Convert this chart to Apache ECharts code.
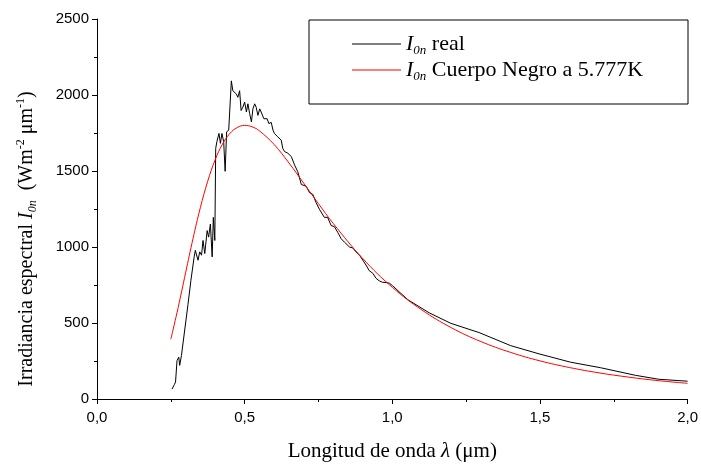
<!DOCTYPE html>
<html>
<head>
<meta charset="utf-8">
<script src="https://cdn.jsdelivr.net/npm/echarts@6/dist/echarts.min.js"></script>
<style>
  html, body { margin: 0; padding: 0; background: #fff; }
  #main { width: 701px; height: 467px; }
</style>
</head>
<body>
<div id="main"></div>
<script>
// measured spectrum (black)
var realX = [0.254, 0.262, 0.266, 0.271, 0.277, 0.280, 0.286, 0.308, 0.318, 0.329, 0.333, 0.342, 0.348, 0.354,
  0.359, 0.365, 0.373, 0.378, 0.384, 0.390, 0.394, 0.399, 0.402, 0.406, 0.413, 0.418, 0.423, 0.429,
  0.434, 0.439, 0.446, 0.455, 0.460, 0.466, 0.472, 0.477, 0.483, 0.488, 0.494, 0.500, 0.506, 0.511,
  0.517, 0.523, 0.528, 0.534, 0.539, 0.545, 0.551, 0.556, 0.565, 0.571, 0.576, 0.582, 0.590, 0.596,
  0.601, 0.607, 0.612, 0.618, 0.624, 0.629, 0.635, 0.646, 0.658, 0.669, 0.680, 0.692, 0.697, 0.708,
  0.720, 0.731, 0.742, 0.753, 0.770, 0.781, 0.793, 0.804, 0.815, 0.827, 0.838, 0.855, 0.866, 0.877,
  0.889, 0.900, 0.911, 0.922, 0.934, 0.945, 0.956, 0.967, 0.979, 0.990, 1.001, 1.052, 1.125, 1.198,
  1.294, 1.401, 1.497, 1.604, 1.705, 1.823, 1.902, 2.000];
var realY = [65, 95, 112, 253, 275, 221, 286, 620, 780, 935, 978, 913, 968, 946,
  1043, 957, 1108, 1065, 1151, 935, 1195, 1043, 1649, 1693, 1747, 1682, 1747, 1693,
  1498, 1758, 1768, 2093, 2028, 2039, 2006, 1985, 2028, 1898, 1920, 1953, 1888, 1942,
  1877, 1823, 1909, 1942, 1920, 1866, 1909, 1888, 1844, 1834, 1844, 1812, 1820, 1769,
  1747, 1760, 1725, 1715, 1703, 1649, 1628, 1617, 1595, 1540, 1495, 1411, 1422, 1400,
  1357, 1346, 1292, 1249, 1195, 1195, 1141, 1134, 1097, 1054, 1032, 1000, 994, 968,
  946, 914, 881, 844, 827, 794, 777, 768, 766, 762, 745, 654, 567, 498,
  437, 351, 297, 242, 206, 156, 130, 117];

// black body 5777 K (red)
var bbX = [0.25, 0.275, 0.30, 0.325, 0.35, 0.375, 0.40, 0.425, 0.45, 0.475, 0.50, 0.525, 0.55, 0.60, 0.65,
  0.70, 0.75, 0.80, 0.90, 1.0, 1.1, 1.2, 1.3, 1.4, 1.5, 1.6, 1.7, 1.8, 1.9, 2.0];
var bbY = [393, 603, 830, 1054, 1259, 1433, 1573, 1677, 1747, 1786, 1800, 1791, 1764, 1674, 1553,
  1420, 1285, 1155, 924, 735, 586, 469, 378, 307, 251, 207, 172, 144, 121, 103];

var xTicks = [0, 0.5, 1.0, 1.5, 2.0];
var yTicks = [0, 500, 1000, 1500, 2000, 2500];

var serif = '"Liberation Serif", "Times New Roman", serif';
var sans = '"Liberation Sans", Arial, sans-serif';

function pairs(xs, ys) {
  return xs.map(function (x, i) { return [x, ys[i]]; });
}

function makeRich(size) {
  var small = Math.round(size * 0.6);
  return {
    n: { fontFamily: serif, fontSize: size, lineHeight: size + 4, color: '#000' },
    i: { fontFamily: serif, fontSize: size, lineHeight: size + 4, fontStyle: 'italic', color: '#000' },
    sub: { fontFamily: serif, fontSize: small, lineHeight: small - 2, fontStyle: 'italic', verticalAlign: 'bottom', color: '#000' },
    sup: { fontFamily: serif, fontSize: small, lineHeight: small, verticalAlign: 'top', color: '#000' }
  };
}

var chart = echarts.init(document.getElementById('main'));

var option = {
  animation: false,
  backgroundColor: '#fff',
  grid: { left: 97, right: 11, top: 19, bottom: 63 },
  graphic: [
    {
      type: 'rect',
      shape: { x: 309, y: 20, width: 379, height: 84 },
      style: { fill: '#fff', stroke: '#000', lineWidth: 1 },
      z: 10
    }
  ],
  legend: {
    orient: 'vertical',
    left: 352,
    top: 33,
    icon: 'rect',
    itemWidth: 49,
    itemHeight: 1,
    itemGap: 2,
    padding: 0,
    z: 20,
    data: ['real', 'bb'],
    formatter: function (name) {
      if (name === 'real') return '{i|I}{sub|0n}{n| real}';
      return '{i|I}{sub|0n}{n| Cuerpo Negro a 5.777K}';
    },
    textStyle: { fontFamily: serif, fontSize: 22, color: '#000', rich: makeRich(22) }
  },
  xAxis: {
    type: 'value',
    min: 0,
    max: 2,
    interval: 0.5,
    name: '{n|Longitud de onda }{i|λ}{n| (μm)}',
    nameLocation: 'middle',
    nameGap: 40,
    nameTextStyle: { rich: makeRich(21) },
    axisLine: { lineStyle: { color: '#000', width: 1 } },
    axisTick: { show: true, length: 5, lineStyle: { color: '#000' } },
    minorTick: { show: true, splitNumber: 2, length: 3, lineStyle: { color: '#000' } },
    splitLine: { show: false },
    axisLabel: {
      color: '#000',
      fontFamily: sans,
      fontSize: 15,
      margin: 11,
      formatter: function (v) { return v.toFixed(1).replace('.', ','); }
    }
  },
  yAxis: {
    type: 'value',
    min: 0,
    max: 2500,
    interval: 500,
    name: '{n|Irradiancia espectral }{i|I}{sub|0n}{n|  (Wm}{sup|-2}{n| μm}{sup|-1}{n|)}',
    nameLocation: 'middle',
    nameRotate: 90,
    nameGap: 58,
    nameTextStyle: { rich: makeRich(20), padding: [0, 60, 0, 0] },
    axisLine: { show: true, lineStyle: { color: '#000', width: 1 } },
    axisTick: { show: true, length: 5, lineStyle: { color: '#000' } },
    minorTick: { show: true, splitNumber: 2, length: 3, lineStyle: { color: '#000' } },
    splitLine: { show: false },
    axisLabel: {
      color: '#000',
      fontFamily: sans,
      fontSize: 15,
      margin: 8,
      formatter: function (v) { return String(v); }
    }
  },
  series: [
    {
      name: 'real',
      type: 'line',
      data: pairs(realX, realY),
      symbol: 'none',
      lineStyle: { color: '#000', width: 1 },
      itemStyle: { color: '#000' },
      z: 3
    },
    {
      name: 'bb',
      type: 'line',
      data: pairs(bbX, bbY),
      symbol: 'none',
      smooth: 0.4,
      lineStyle: { color: '#ff0000', width: 1 },
      itemStyle: { color: '#ff0000' },
      z: 4
    }
  ]
};

chart.setOption(option);
</script>
</body>
</html>
